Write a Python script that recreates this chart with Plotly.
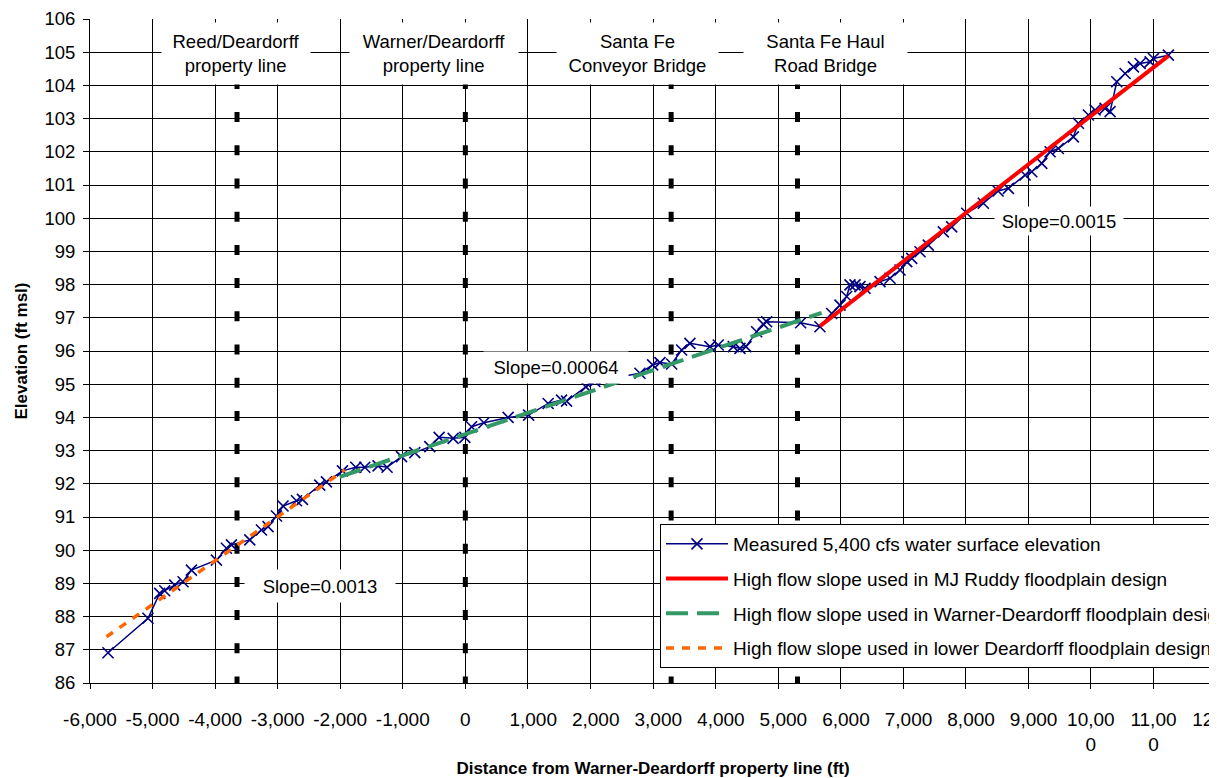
import plotly.graph_objects as go

# ---------------- data ----------------
meas_x = [-5712, -5073, -4886, -4806, -4646, -4513, -4379, -3979, -3819, -3739,
          -3446, -3259, -3154, -3019, -2914, -2699, -2604, -2327, -2220, -1964,
          -1751, -1607, -1395, -1251, -1020, -808, -568, -419, -195, -8,
          99, 296, 684, 1012, 1324, 1538, 1618, 1927, 2071, 2204,
          2791, 2994, 3111, 3298, 3458, 3590, 3910, 4043, 4283, 4390,
          4486, 4657, 4762, 4817, 5360, 5669, 5856, 5989, 6096, 6149,
          6229, 6309, 6389, 6629, 6789, 6949, 7056, 7136, 7269, 7401,
          7641, 7775, 8015, 8281, 8516, 8681, 8948, 9055, 9215, 9348,
          9480, 9720, 9800, 9960, 10067, 10227, 10307, 10414, 10547, 10680,
          10787, 10947, 11000, 11239]
meas_y = [86.91, 87.95, 88.70, 88.78, 88.95, 89.05, 89.40, 89.70, 90.06, 90.16,
          90.31, 90.61, 90.71, 91.03, 91.33, 91.49, 91.53, 91.96, 92.06, 92.39,
          92.50, 92.50, 92.54, 92.50, 92.82, 92.94, 93.12, 93.40, 93.37, 93.40,
          93.72, 93.84, 94.00, 94.07, 94.42, 94.52, 94.49, 94.92, 95.08, 95.13,
          95.33, 95.58, 95.65, 95.61, 96.03, 96.23, 96.13, 96.18, 96.13, 96.08,
          96.13, 96.58, 96.81, 96.88, 96.85, 96.73, 97.13, 97.38, 97.64, 97.99,
          97.99, 97.94, 97.89, 98.09, 98.19, 98.44, 98.69, 98.79, 98.99, 99.19,
          99.59, 99.74, 100.15, 100.45, 100.82, 100.90, 101.30, 101.40, 101.65, 102.00,
          102.10, 102.45, 102.86, 103.11, 103.26, 103.31, 103.21, 104.11, 104.36, 104.56,
          104.66, 104.71, 104.81, 104.91]

ruddy_x = [5669, 11239]
ruddy_y = [96.75, 104.89]
warner_x = [-2007, 5696]
warner_y = [92.21, 97.15]
lower_x = [-5738, -1927]
lower_y = [87.39, 92.42]

# reference lines (property lines / bridges)
ref_line_x = [-3650, 0, 3290, 5310]
ref_line_y = [104.196, 86]

top_labels = ["Reed/Deardorff<br>property line", "Warner/Deardorff<br>property line",
              "Santa Fe<br>Conveyor Bridge", "Santa Fe Haul<br>Road Bridge"]
top_label_x = [-3670, -504, 2751, 5757]
top_label_y = 104.96
top_label_w = [148, 168, 161, 163]

slope_labels = ["Slope=0.0013", "Slope=0.00064", "Slope=0.0015"]
slope_x = [-2327, 1447, 9492]
slope_y = [88.92, 95.50, 99.92]
slope_w = [150, 144, 128]
slope_h = [32, 31, 28]

x_tickvals = list(range(-6000, 12001, 1000))
x_ticktext = ["-6,000", "-5,000", "-4,000", "-3,000", "-2,000", "-1,000", "0",
              "1,000", "2,000", "3,000", "4,000", "5,000", "6,000", "7,000",
              "8,000", "9,000", "10,00<br>0", "11,00<br>0", "12,00<br>0"]

FONT = "Liberation Sans, Arial, sans-serif"
NB = "\u00a0\u00a0"
x_ticklabels = [(NB + t) if (not t.startswith("-") and t != "0" and "<br>" not in t) else t
                for t in x_ticktext]

fig = go.Figure()

for xv in ref_line_x:
    fig.add_trace(go.Scatter(
        x=[xv, xv], y=ref_line_y, mode="lines", showlegend=False, hoverinfo="skip",
        line=dict(color="black", width=5, dash="10px,23.2px")))

fig.add_trace(go.Scatter(
    x=meas_x, y=meas_y, mode="lines+markers", name="Measured 5,400 cfs water surface elevation",
    legendgroup="g1",
    line=dict(color="#000080", width=1.5),
    marker=dict(symbol="x-thin", size=11, line=dict(color="#000080", width=1.6))))
fig.add_trace(go.Scatter(
    x=ruddy_x, y=ruddy_y, mode="lines", name="High flow slope used in MJ Ruddy floodplain design",
    legendgroup="g2", line=dict(color="#FF0000", width=4)))
fig.add_trace(go.Scatter(
    x=warner_x, y=warner_y, mode="lines",
    name="High flow slope used in Warner-Deardorff floodplain design",
    legendgroup="g3", line=dict(color="#339966", width=4, dash="22px,9px")))
fig.add_trace(go.Scatter(
    x=lower_x, y=lower_y, mode="lines",
    name="High flow slope used in lower Deardorff floodplain design",
    legendgroup="g4", line=dict(color="#FF6600", width=3.5, dash="8px,8px")))

annotations = []
for t, xv, w in zip(top_labels, top_label_x, top_label_w):
    annotations.append(dict(x=xv, y=top_label_y, xref="x", yref="y", text=t, showarrow=False,
                            bgcolor="white", width=w, height=61, borderpad=0,
                            font=dict(size=18.5, family=FONT, color="black")))
for t, xv, yv, w, h in zip(slope_labels, slope_x, slope_y, slope_w, slope_h):
    annotations.append(dict(x=xv, y=yv, xref="x", yref="y", text=t, showarrow=False,
                            bgcolor="white", width=w, height=h, borderpad=0,
                            font=dict(size=18.5, family=FONT, color="black")))

# page body has an 8px margin, so the figure is sized/offset to land on the window
fig.update_layout(
    width=1209, height=770,
    margin=dict(l=82, r=1, t=11, b=95, autoexpand=False),
    paper_bgcolor="white", plot_bgcolor="white",
    font=dict(family=FONT, color="black", size=17),
    annotations=annotations,
    legend=dict(x=0.5062, y=0.2395, xanchor="left", yanchor="top",
                bgcolor="white", bordercolor="black", borderwidth=1,
                font=dict(size=19, family=FONT, color="black"),
                itemwidth=62, tracegroupgap=7, traceorder="grouped"),
    xaxis=dict(range=[-6000, 12000], tickvals=x_tickvals, ticktext=x_ticklabels,
               showgrid=True, gridcolor="black", gridwidth=1, zeroline=False,
               showline=True, linecolor="black", linewidth=1,
               ticks="outside", ticklen=5, tickcolor="black", ticklabeloverflow="allow",
               tickfont=dict(size=19, family=FONT), ticklabelstandoff=14,
               title=dict(text="<b>Distance from Warner-Deardorff property line (ft)</b>",
                          font=dict(size=17, family=FONT), standoff=12)),
    yaxis=dict(range=[86, 106], dtick=1, tick0=86,
               showgrid=True, gridcolor="black", gridwidth=1, zeroline=False,
               showline=True, linecolor="black", linewidth=1,
               ticks="outside", ticklen=6, tickcolor="black",
               tickfont=dict(size=18.5, family=FONT), ticklabelstandoff=4,
               title=dict(text="<b>Elevation (ft msl)</b>",
                          font=dict(size=17, family=FONT), standoff=12)),
)

fig.write_html("out.html")
